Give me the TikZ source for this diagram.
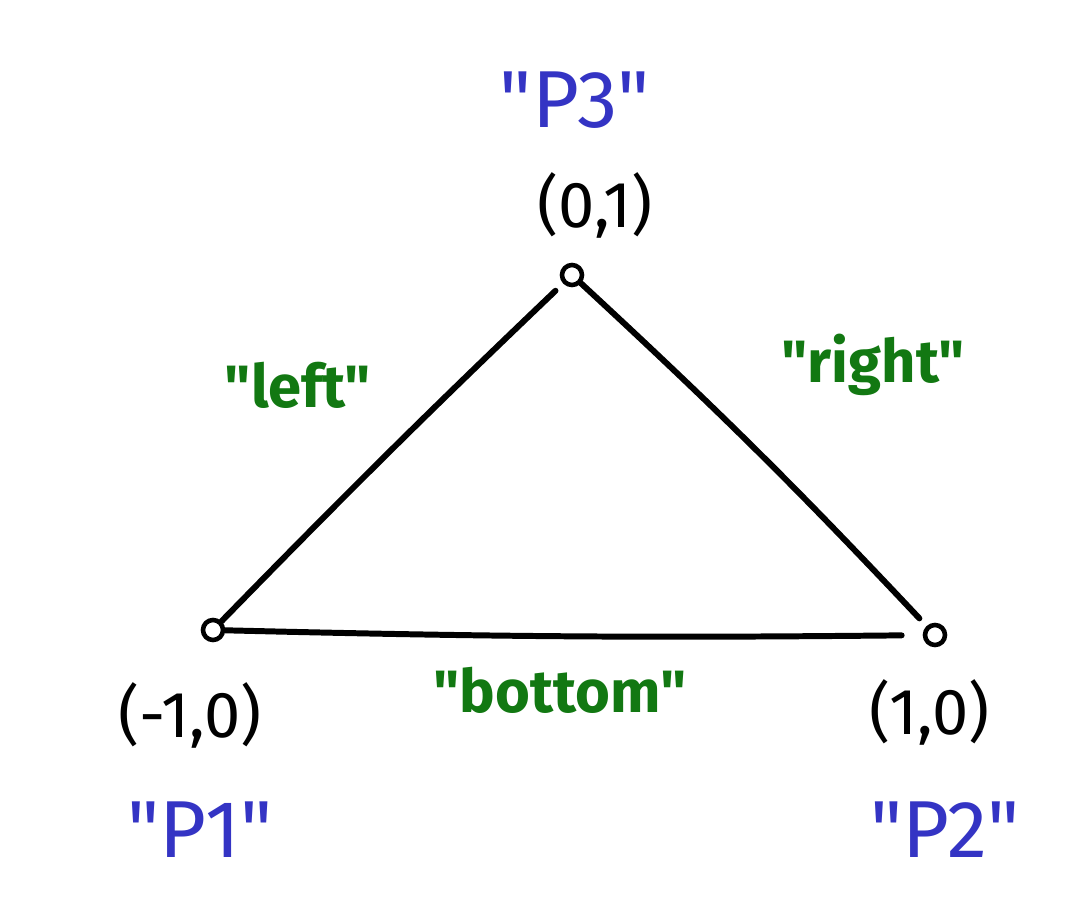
\documentclass[tikz,border=0pt]{standalone}
\usepackage{fontspec}
\defaultfontfeatures[\rmfamily]{}
\setmainfont{Fira Sans}[Ligatures=TeXOff]
\usepackage{xcolor}
\usetikzlibrary{calc,positioning}

\definecolor{penblue}{RGB}{52,52,196}
\definecolor{pengreen}{RGB}{18,120,18}

\begin{document}
\begin{tikzpicture}[x=0.02cm, y=0.02cm]
    \tikzset{
        pt/.style={draw, circle, line width=2.6pt, inner sep=0pt, minimum size=0.4cm},
        side/.style={line width=3.4pt, line cap=round, line join=round},
        coord/.style={font={\fontseries{m}\fontsize{37}{39}\selectfont}},
        pname/.style={text=penblue, font={\fontsize{46}{48}\selectfont}},
        sname/.style={text=pengreen, font={\fontseries{sb}\fontsize{34}{36}\selectfont}}
    }

    \useasboundingbox (0,0) rectangle (1087,910);

    % corners
    \node [pt] (p1) at (213,280) {};
    \node [pt] (p2) at (935,275) {};
    \node [pt] (p3) at (572,635) {};

    % sides
    \draw [side, shorten >=6pt] (p1) to [bend left=1] (p3);
    \draw [side, shorten >=6pt] (p3) to [bend left=2] (p2);
    \draw [side, shorten >=12pt] (p1) to [bend right=1] (p2);

    % coordinates
    \node [coord] (c3) at (595,705) {(0,1)};
    \node [coord] (c1) at (190,195) {(-1,0)};
    \node [coord] (c2) at (930,198) {(1,0)};

    % point names
    \node [pname] (n3) at (575,810) {"P3"};
    \node [pname] (n1) at (200,80) {"P1"};
    \node [pname] (n2) at (945,80) {"P2"};

    % side names
    \node [sname] (left) at (298,525) {"left"};
    \node [sname] (right) at (873,545) {"right"};
    \node [sname] (bottom) at (560,220) {"bottom"};
\end{tikzpicture}
\end{document}
